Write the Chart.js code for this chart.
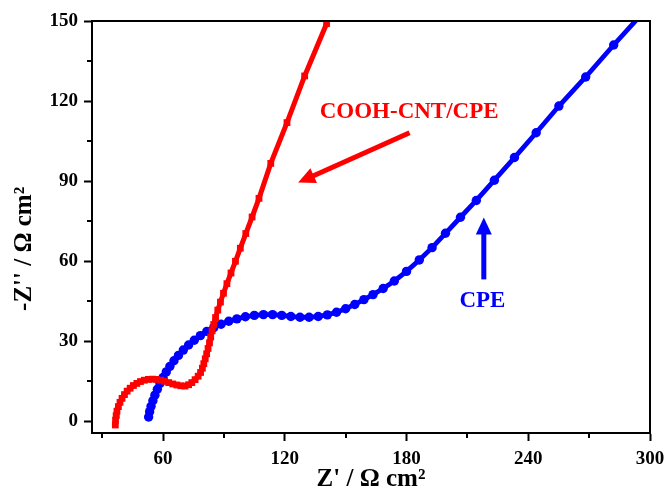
<!DOCTYPE html>
<html><head><meta charset="utf-8">
<script src="https://cdn.jsdelivr.net/npm/chart.js@4.4.1/dist/chart.umd.min.js"></script>
<style>html,body{margin:0;padding:0;background:#fff;}#wrap{width:666px;height:495px;}</style>
</head><body><div id="wrap"><canvas id="c" width="666" height="495"></canvas></div>
<script>
// COOH-CNT/CPE (red squares): Z' and -Z'' in Ω cm²
const cntZre = [36.5,36.6,36.9,37.3,38,38.8,39.8,41,42.3,43.8,45.4,47.1,48.9,50.8,52.8,54.8,56.8,58.8,60.8,62.8,64.8,66.8,68.8,70.8,72.6,74.2,75.8,77.3,78.5,79.4,80.1,80.8,81.5,82.2,82.9,83.5,84.2,85,85.9,87,88.3,89.8,91.5,93.5,95.7,98.1,100.8,103.9,107.3,113.1,121.1,129.8,140.6];
const cntZim = [-1.5,0.3,2,3.7,5.4,7,8.5,9.9,11.2,12.3,13.3,14.1,14.8,15.3,15.6,15.7,15.6,15.3,14.9,14.4,13.9,13.5,13.2,13.1,13.6,14.4,15.5,16.8,18.2,19.8,21.5,23.3,25.2,27.2,29.3,31.5,33.8,36.2,38.8,41.6,44.6,47.9,51.5,55.5,59.9,64.8,70.3,76.5,83.5,96.6,111.9,129.4,149];
// CPE (blue circles)
const cpeZre = [52.9,53.4,54.1,55,56,57.2,58.5,60,61.6,63.4,65.4,67.6,70,72.6,75.4,78.4,81.6,85,88.6,92.4,96.4,100.6,105,109.5,114,118.5,123,127.5,132,136.5,141,145.5,150,154.5,159,163.5,168.5,174,180,186.3,192.6,199.2,206.6,214.4,223.3,233.2,243.9,255.1,268.3,282.1,297];
const cpeZim = [1.5,3.5,5.5,7.6,9.7,11.9,14.1,16.3,18.4,20.5,22.6,24.6,26.6,28.5,30.3,32,33.6,35,36.3,37.4,38.3,39.1,39.6,39.9,39.9,39.6,39.2,38.9,38.9,39.2,39.8,40.8,42.1,43.7,45.5,47.4,49.7,52.5,56.1,60.4,65,70.4,76.4,82.7,90.3,98.8,108.1,118.1,129,141,153.5];
const seriesNames = ['COOH-CNT/CPE', 'CPE'];
const xMinorTicks = [30, 90, 150, 210, 270];
const yMinorTicks = [15, 45, 75, 105, 135];
const xTitle = "Z' / \u03A9 cm\u00B2";
const yTitle = "-Z'' / \u03A9 cm\u00B2";

// annotations in data units
const labelNotes = [
  {text: 'COOH-CNT/CPE', x: 181.3, y: 116, color: '#ff0000'},
  {text: 'CPE', x: 217.4, y: 44.8, color: '#0000ff'}
];
const arrowNotes = [
  {from: [181.5, 108.1], to: [126.6, 89.4], color: '#ff0000'},
  {from: [218.1, 53.1], to: [218.1, 76.3], color: '#0000ff'}
];

const toPts = (xs, ys) => xs.map((v, i) => ({x: v, y: ys[i]}));
const serif = "'Liberation Serif','Times New Roman',serif";

const extras = {
  id: 'extras',
  afterDraw(chart) {
    const {ctx, chartArea: a, scales: {x, y}} = chart;
    ctx.save();
    ctx.strokeStyle = '#000';
    ctx.lineWidth = 2;
    ctx.beginPath();
    ctx.moveTo(a.left - 1, a.top);
    ctx.lineTo(a.right, a.top);
    ctx.lineTo(a.right, a.bottom + 1);
    ctx.stroke();
    ctx.beginPath();
    xMinorTicks.forEach(v => { const p = Math.round(x.getPixelForValue(v)); ctx.moveTo(p, a.bottom); ctx.lineTo(p, a.bottom + 5); });
    yMinorTicks.forEach(v => { const p = Math.round(y.getPixelForValue(v)); ctx.moveTo(a.left, p); ctx.lineTo(a.left - 5, p); });
    ctx.stroke();
    arrowNotes.forEach(n => {
      const x1 = x.getPixelForValue(n.from[0]), y1 = y.getPixelForValue(n.from[1]);
      const x2 = x.getPixelForValue(n.to[0]), y2 = y.getPixelForValue(n.to[1]);
      const ang = Math.atan2(y2 - y1, x2 - x1);
      const hl = 17, hw = 8;
      const bx = x2 - hl * Math.cos(ang), by = y2 - hl * Math.sin(ang);
      ctx.strokeStyle = n.color; ctx.fillStyle = n.color; ctx.lineWidth = 5;
      ctx.beginPath(); ctx.moveTo(x1, y1); ctx.lineTo(bx + 2 * Math.cos(ang), by + 2 * Math.sin(ang)); ctx.stroke();
      ctx.beginPath();
      ctx.moveTo(x2, y2);
      ctx.lineTo(bx + hw * Math.sin(ang), by - hw * Math.cos(ang));
      ctx.lineTo(bx - hw * Math.sin(ang), by + hw * Math.cos(ang));
      ctx.closePath(); ctx.fill();
    });
    ctx.font = "bold 23px " + serif;
    ctx.textAlign = 'center'; ctx.textBaseline = 'middle';
    labelNotes.forEach(n => {
      ctx.fillStyle = n.color;
      ctx.fillText(n.text, x.getPixelForValue(n.x), y.getPixelForValue(n.y));
    });
    ctx.restore();
  }
};

new Chart(document.getElementById('c'), {
  type: 'line',
  data: {
    datasets: [
      {label: seriesNames[0], data: toPts(cntZre, cntZim), borderColor: '#ff0000', backgroundColor: '#ff0000',
       borderWidth: 5, pointStyle: 'rect', pointRadius: 4.8, pointBorderWidth: 0, tension: 0},
      {label: seriesNames[1], data: toPts(cpeZre, cpeZim), borderColor: '#0000ff', backgroundColor: '#0000ff',
       borderWidth: 4.8, pointStyle: 'circle', pointRadius: 4.7, pointBorderWidth: 0, tension: 0}
    ]
  },
  options: {
    responsive: false, animation: false, devicePixelRatio: 1,
    layout: {padding: {top: 21, right: 16, left: 0, bottom: 0}},
    plugins: {legend: {display: false}, tooltip: {enabled: false}},
    scales: {
      x: {
        type: 'linear', min: 25, max: 300,
        afterFit: s => { s.height = 62; s.paddingLeft = 0; s.paddingRight = 0; },
        border: {display: true, color: '#000', width: 2},
        grid: {drawOnChartArea: false, drawTicks: true, tickLength: 8, tickColor: '#000', tickWidth: 2},
        ticks: {stepSize: 60, includeBounds: false, autoSkip: false, maxRotation: 0, padding: 7, color: '#000',
                font: {family: serif, size: 19, weight: 'bold'}},
        title: {display: true, text: xTitle, color: '#000', padding: {top: 0, bottom: 0},
                font: {family: serif, size: 25, weight: 'bold'}}
      },
      y: {
        type: 'linear', min: -4.5, max: 150,
        afterFit: s => { s.width = 92; s.paddingTop = 0; s.paddingBottom = 0; },
        border: {display: true, color: '#000', width: 2},
        grid: {drawOnChartArea: false, drawTicks: true, tickLength: 8, tickColor: '#000', tickWidth: 2},
        ticks: {stepSize: 30, includeBounds: false, autoSkip: false, padding: 6, color: '#000',
                font: {family: serif, size: 19, weight: 'bold'}},
        title: {display: true, text: yTitle + '\u00a0\u00a0\u00a0\u00a0\u00a0\u00a0\u00a0', color: '#000', padding: {top: 10, bottom: 0},
                font: {family: serif, size: 25, weight: 'bold'}}
      }
    }
  },
  plugins: [extras]
});
</script></body></html>
